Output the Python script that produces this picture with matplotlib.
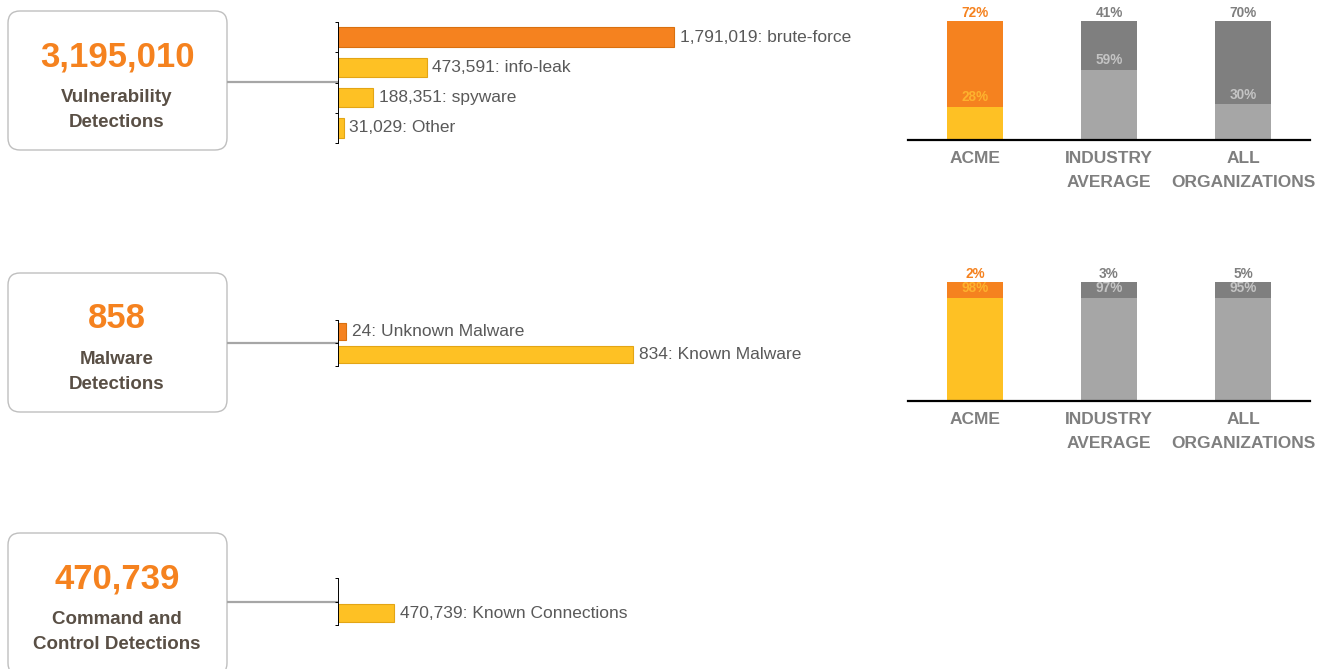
import matplotlib.pyplot as plt
from matplotlib.patches import FancyBboxPatch, Rectangle

plt.rcParams['font.family'] = ['Liberation Sans', 'DejaVu Sans']

# --- data ---
box_totals = [3195010, 858, 470739]
box_titles = ['Vulnerability\nDetections', 'Malware\nDetections', 'Command and\nControl Detections']

vuln_names = ['brute-force', 'info-leak', 'spyware', 'Other']
vuln_values = [1791019, 473591, 188351, 31029]

malware_names = ['Unknown Malware', 'Known Malware']
malware_values = [24, 834]

cnc_names = ['Known Connections']
cnc_values = [470739]

groups = ['ACME', 'INDUSTRY\nAVERAGE', 'ALL\nORGANIZATIONS']
vuln_bottom = [28, 59, 30]
vuln_top = [72, 41, 70]
malware_bottom = [98, 97, 95]
malware_top = [2, 3, 5]

# --- colours ---
ORANGE = '#F5821F'
ORANGE_EDGE = '#D9700F'
YELLOW = '#FEC124'
YELLOW_EDGE = '#E3A515'
DARK_GREY = '#7F7F7F'
LIGHT_GREY = '#A6A6A6'
TEXT = '#595959'
TITLE = '#594F45'

W, H = 1332, 669
fig = plt.figure(figsize=(W / 100, H / 100), dpi=100)


def px_axes(x0, y0, x1, y1):
    return fig.add_axes([x0 / W, 1 - y1 / H, (x1 - x0) / W, (y1 - y0) / H])


# overlay for boxes and connectors
bg = fig.add_axes([0, 0, 1, 1])
bg.set_xlim(0, W)
bg.set_ylim(H, 0)
bg.axis('off')

boxes = [(11, 150, 82), (273, 412, 343), (533, 675, 602)]
for (top, bottom, cy), total, title in zip(boxes, box_totals, box_titles):
    bg.add_patch(FancyBboxPatch((8 + 12, top + 12), 219 - 24, bottom - top - 24,
                                boxstyle='round,pad=12', fc='white', ec='#BFBFBF', lw=1.0))
    bg.text(117, top + 46, f'{total:,}', ha='center', va='center',
            fontsize=25, fontweight='bold', color=ORANGE)
    bg.text(117, top + 99, title, ha='center', va='center', fontsize=13.5,
            fontweight='bold', color=TITLE, linespacing=1.64)
    bg.plot([227, 338], [cy, cy], color=LIGHT_GREY, lw=1.6, solid_capstyle='butt')


def hbars(ax, names, values, colors, edges, xmax, height, n_slots, first_slot=0):
    pos = list(range(first_slot, first_slot + len(values)))
    ax.barh(pos, values, height=height, color=colors, edgecolor=edges, lw=0.8)
    for p, v, name in zip(pos, values, names):
        ax.annotate(f'{v:,}: {name}', (v, p), xytext=(4, 0), textcoords='offset points',
                    va='center', ha='left', fontsize=12.5, color=TEXT)
    ax.set_xlim(0, xmax)
    ax.set_ylim(n_slots - 0.5, -0.5)
    for s in ['top', 'right', 'bottom']:
        ax.spines[s].set_visible(False)
    ax.spines['left'].set_linewidth(0.7)
    ax.set_xticks([])
    ax.set_yticks([i - 0.5 for i in range(n_slots + 1)])
    ax.set_yticklabels([])
    ax.tick_params(axis='y', length=2.5, width=0.7, direction='out')
    ax.patch.set_alpha(0)


ax1 = px_axes(338, 22, 858, 143)
hbars(ax1, vuln_names, vuln_values,
      [ORANGE, YELLOW, YELLOW, YELLOW], [ORANGE_EDGE, YELLOW_EDGE, YELLOW_EDGE, YELLOW_EDGE],
      2771875, 0.65, 4)

ax2 = px_axes(338, 320, 858, 366)
hbars(ax2, malware_names, malware_values, [ORANGE, YELLOW], [ORANGE_EDGE, YELLOW_EDGE],
      1470, 0.75, 2)

ax3 = px_axes(338, 578, 858, 625)
hbars(ax3, cnc_names, cnc_values, [YELLOW], [YELLOW_EDGE], 4371148, 0.75, 2, first_slot=1)


def stacked(ax, bottom, top):
    x = list(range(len(groups)))
    bot_colors = [YELLOW, LIGHT_GREY, LIGHT_GREY]
    top_colors = [ORANGE, DARK_GREY, DARK_GREY]
    top_text = [ORANGE, DARK_GREY, DARK_GREY]
    inner_text = ['#FDB22E', '#C4C4C4', '#C4C4C4']
    w = 0.418
    ax.bar(x, bottom, width=w, color=bot_colors)
    ax.bar(x, top, width=w, bottom=bottom, color=top_colors)
    label_h = 13.4
    for i in x:
        total = bottom[i] + top[i]
        ax.text(i, total + 0.5, f'{top[i]}%', ha='center', va='bottom', fontsize=9.8,
                fontweight='bold', color=top_text[i])
        ly = min(bottom[i], total - label_h)
        ax.add_patch(Rectangle((i - w / 2, ly), w, label_h, color=top_colors[i], lw=0))
        ax.text(i, ly + 2.2, f'{bottom[i]}%', ha='center', va='bottom', fontsize=9.8,
                fontweight='bold', color=inner_text[i])
    ax.set_xlim(-0.5, 2.5)
    ax.set_ylim(0, 100)
    for s in ['top', 'right', 'left']:
        ax.spines[s].set_visible(False)
    ax.spines['bottom'].set_linewidth(1.6)
    ax.spines['bottom'].set_color('black')
    ax.set_yticks([])
    ax.set_xticks(x)
    ax.set_xticklabels(groups, fontsize=12.5, fontweight='bold', color=DARK_GREY,
                       linespacing=1.73)
    ax.tick_params(axis='x', length=0, pad=8)
    ax.patch.set_alpha(0)


ax4 = px_axes(908, 21, 1310, 140)
stacked(ax4, vuln_bottom, vuln_top)

ax5 = px_axes(908, 282, 1310, 401)
stacked(ax5, malware_bottom, malware_top)

fig.savefig('out.png', dpi=100, facecolor='white')
